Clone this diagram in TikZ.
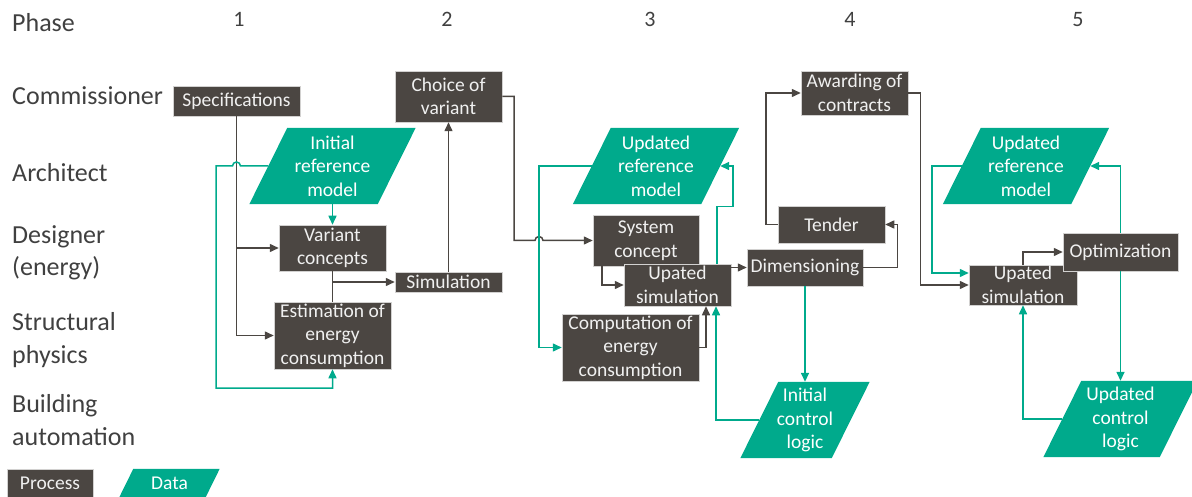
\documentclass[tikz,border=0pt]{standalone}
\usepackage{fontspec}
\setmainfont{Carlito}
\usetikzlibrary{arrows.meta,backgrounds,calc}
\definecolor{boxc}{RGB}{75,70,66}
\definecolor{greenc}{RGB}{0,170,140}
\definecolor{labc}{RGB}{64,64,64}
\newcommand\paraback[2]{\fill[greenc] ([xshift=#2]#1.north west) -- ([xshift=#2]#1.north east) -- ([xshift=-#2]#1.south east) -- ([xshift=-#2]#1.south west) -- cycle;}
\tikzset{
  proc/.style={fill=boxc, draw=white!75!boxc, line width=0.5pt, text=white!94!black,
    font=\fontsize{19.5}{23.5}\selectfont, align=center, inner sep=1pt},
  dat/.style={text=white, font=\fontsize{19.5}{23.5}\selectfont, align=center,
    inner sep=0pt, minimum height=76pt},
  lab/.style={text=labc, font=\fontsize{26}{32.5}\selectfont, align=left, anchor=base west, inner sep=0pt},
  phasenum/.style={text=labc, font=\fontsize{22}{26}\selectfont, anchor=base, inner sep=0pt},
  ln/.style={draw=boxc, line width=1.5pt},
  arr/.style={ln, -{Triangle[length=9pt,width=8pt]}},
  gln/.style={draw=greenc, line width=1.5pt},
  garr/.style={gln, -{Triangle[length=9pt,width=8pt]}},
}
\begin{document}
\begin{tikzpicture}[x=1pt,y=-1pt]
\useasboundingbox (0,0) rectangle (1192,497);

% row and phase labels (base = baseline of last line)
\node[lab] (lphase) at (12,32) {Phase};
\node[lab] (lcomm) at (12,105) {Commissioner};
\node[lab] (larch) at (12,182) {Architect};
\node[lab] (ldes) at (12,276) {Designer\\(energy)};
\node[lab] (lstr) at (12,363) {Structural\\physics};
\node[lab] (lbua) at (12,445) {Building\\automation};
\node[phasenum] (p1) at (239,27) {1};
\node[phasenum] (p2) at (447,27) {2};
\node[phasenum] (p3) at (650,27) {3};
\node[phasenum] (p4) at (850,27) {4};
\node[phasenum] (p5) at (1078,27) {5};

% process boxes
\node[proc, minimum width=127pt, minimum height=30pt] (spec) at (236.5,101) {Specifications};
\node[proc, minimum width=107pt, minimum height=51pt] (choice) at (448.5,96.5) {Choice of\\variant};
\node[proc, minimum width=107pt, minimum height=46pt] (var) at (332.5,248) {Variant\\concepts};
\node[proc, minimum width=107pt, minimum height=20pt, inner sep=0pt] (sim) at (448.5,282) {Simulation};
\node[proc, minimum width=117pt, minimum height=67pt, inner sep=0pt] (est) at (332.5,335.5) {Estimation of\\energy\\consumption};
\node[proc, minimum width=106pt, minimum height=51pt] (syscon) at (646,240.5) {System\\concept};
\node[proc, minimum width=107pt, minimum height=42pt, inner sep=0pt] (usim3) at (677.5,285) {Upated\\simulation};
\node[proc, minimum width=137pt, minimum height=67pt, inner sep=0pt] (comp) at (630.5,347.5) {Computation of\\energy\\consumption};
\node[proc, minimum width=116pt, minimum height=37pt] (dim) at (805,267.5) {Dimensioning};
\node[proc, minimum width=107pt, minimum height=37pt] (tender) at (831.5,224.5) {Tender};
\node[proc, minimum width=107pt, minimum height=44pt] (award) at (854.5,93) {Awarding of\\contracts};
\node[proc, minimum width=108pt, minimum height=40pt, inner sep=0pt] (usim5) at (1023,285) {Upated\\simulation};
\node[proc, minimum width=115pt, minimum height=38pt] (opt) at (1120.5,252) {Optimization};

% data nodes
\node[dat, minimum width=128pt] (irm) at (332.5,166) {Initial\\reference\\model};
\node[dat, minimum width=128pt] (urm3) at (656,166) {Updated\\reference\\model};
\node[dat, minimum width=128pt] (urm5) at (1026,166) {Updated\\reference\\model};
\node[dat, minimum width=91pt] (icl) at (805,420) {Initial\\control\\logic};
\node[dat, minimum width=116pt] (ucl) at (1120.5,419) {Updated\\control\\logic};

% legend
\node[proc, minimum width=86pt, minimum height=28pt] (lproc) at (50,483) {Process};
\node[dat, minimum width=86pt, minimum height=28pt] (ldat) at (169.5,483) {Data};

\begin{pgfonlayer}{background}
\paraback{irm}{19pt}
\paraback{urm3}{19pt}
\paraback{urm5}{19pt}
\paraback{icl}{19pt}
\paraback{ucl}{19pt}
\paraback{ldat}{7pt}
\end{pgfonlayer}

% phase 1
\draw[arr] (spec.south) |- (var.west);
\draw[arr] (spec.south) |- (est.west);
\draw[ln] (var.south) -- (est.north);
\draw[arr] (var.south |- sim.west) -- (sim.west);
\draw[arr] (sim.north) -- (choice.south);
\draw[garr] (irm.south) -- (var.north);
\draw[garr] (irm.west) -- (240.5,166) arc[start angle=0,end angle=-180,radius=4] -- (216,166) |- (332.5,388) -- (est.south);

% phase 2 -> 3
\draw[arr] (choice.east) -- (514,96.5) -- (514,240.5) -- (535,240.5) arc[start angle=-180,end angle=0,radius=4] -- (syscon.west);

% phase 3
\draw[arr] ([xshift=-44pt]syscon.south) |- (usim3.west);
\draw[garr] (urm3.west) -- (539,166) |- (comp.west);
\draw[arr] (comp.east) -| ([xshift=28.5pt]usim3.south);
\draw[garr] (icl.west) -| ([xshift=38.5pt]usim3.south);
\draw[garr] ([xshift=39.5pt]usim3.north) -- ++(0,-57) -- ++(16,0) |- (urm3.east);
\draw[arr] (usim3.east |- dim.west) -- (dim.west);
\draw[garr] (dim.south) -- (icl.north);

% phase 4
\draw[arr] (dim.east) -- ++(34,0) |- (tender.east);
\draw[arr] (tender.west) -- ++(-12,0) |- (award.west);
\draw[arr] (award.east) -- ++(12,0) |- (usim5.west);

% phase 5
\draw[garr] (urm5.west) -- (932,166) |- ([yshift=12pt]usim5.west);
\draw[arr] (usim5.north) |- (opt.west);
\draw[garr] (opt.north) |- (urm5.east);
\draw[garr] (opt.south) -- (ucl.north);
\draw[garr] (ucl.west) -| (usim5.south);
\end{tikzpicture}
\end{document}
